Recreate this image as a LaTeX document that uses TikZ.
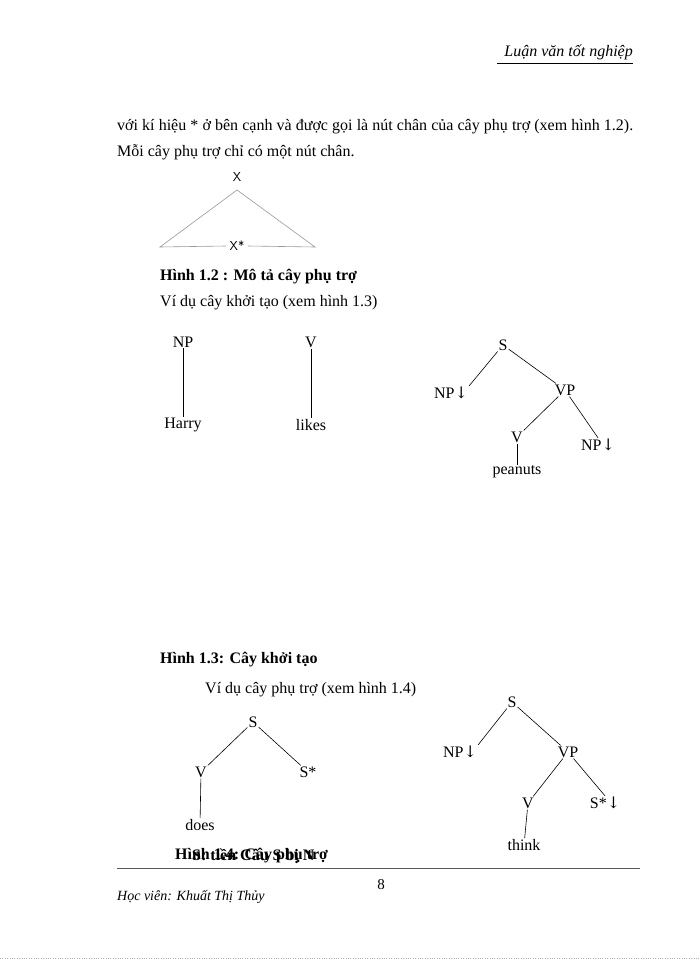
\documentclass[tikz,border=0pt]{standalone}
\usepackage{fontspec}
\setmainfont{Liberation Serif}
\newfontfamily\arrfont{DejaVu Serif}
\begin{document}
\begin{tikzpicture}[x=1pt,y=-1pt,
  lbl/.style={font=\fontsize{16}{18}\selectfont, inner sep=1pt},
  captxt/.style={font=\bfseries\fontsize{16}{18}\selectfont, anchor=west, inner sep=0pt},
  txt/.style={font=\fontsize{16}{18}\selectfont, anchor=west, inner sep=0pt},
  edge/.style={draw=black, line width=0.6pt},
  tri/.style={draw=gray!80, line width=0.6pt}]
\useasboundingbox (0,0) rectangle (700,960);
\fill[white] (0,0) rectangle (700,960);
% header
\node[font=\itshape\fontsize{16}{18}\selectfont, anchor=east, inner sep=0pt] (hdr) at (633,52) {Luận văn tốt nghiệp};
\draw[line width=0.5pt] (497,63) -- (633,63);
% paragraph
\node[txt, text width=516pt, align=justify, font=\fontsize{16}{26}\selectfont] (par) at (117,140) {với kí hiệu * ở bên cạnh và được gọi là nút chân của cây phụ trợ (xem hình 1.2). Mỗi cây phụ trợ chỉ có một nút chân.};
% triangle
\node[font=\sffamily\fontsize{13}{15}\selectfont] (x) at (237,177) {X};
\node[font=\sffamily\fontsize{13}{15}\selectfont] (xs) at (237,246) {X*};
\coordinate (apex) at (237,190);
\coordinate (tl) at (160,247);
\coordinate (tr) at (315,247);
\draw[tri] (xs.west) -- (tl) -- (apex) -- (tr) -- (xs.east);
\node[captxt] (c12) at (160,277) {Hình 1.2 : Mô tả cây phụ trợ};
\node[txt] (v13) at (160,303) {Ví dụ cây khởi tạo (xem hình 1.3)};
% trees fig 1.3
\node[lbl] (np1) at (183,342) {NP};
\node[lbl] (harry) at (183,425) {Harry};
\draw[edge] (np1) -- (harry);
\node[lbl] (v1) at (311,342) {V};
\node[lbl] (likes) at (311,425) {likes};
\draw[edge] (v1) -- (likes);
\node[lbl] (s2) at (503,345) {S};
\node[lbl] (np2) at (451,393) {NP{\arrfont↓}};
\node[lbl] (vp2) at (565,390) {VP};
\node[lbl] (v2) at (517,437) {V};
\node[lbl] (np3) at (598,445) {NP{\arrfont↓}};
\node[lbl] (pea) at (517,472) {peanuts};
\draw[edge] (s2) -- (np2.north east);
\draw[edge] (s2) -- (vp2);
\draw[edge] (vp2) -- (v2);
\draw[edge] (vp2) -- (np3.north);
\draw[edge] (v2) -- (pea);
\node[captxt] (c13) at (160,660) {Hình 1.3: Cây khởi tạo};
\node[txt] (v14) at (205,690) {Ví dụ cây phụ trợ (xem hình 1.4)};
% fig 1.4
\node[lbl] (s3) at (253,722) {S};
\node[lbl] (v3) at (201,772) {V};
\node[lbl] (ss3) at (308,772) {S*};
\node[lbl] (does) at (200,825) {does};
\draw[edge] (s3) -- (v3);
\draw[edge] (s3) -- (ss3);
\draw[edge] (v3) -- (does);
\node[lbl] (s4) at (512,702) {S};
\node[lbl] (np4) at (460,752) {NP{\arrfont↓}};
\node[lbl] (vp4) at (568,752) {VP};
\node[lbl] (v4) at (528,803) {V};
\node[lbl] (ss4) at (605,803) {S*{\arrfont↓}};
\node[lbl] (think) at (524,845) {think};
\draw[edge] (s4) -- (np4.north east);
\draw[edge] (s4) -- (vp4);
\draw[edge] (vp4) -- (v4);
\draw[edge] (vp4) -- (ss4.north);
\draw[edge] (v4) -- (think);
\node[captxt] (c14) at (175,856) {Hình 1.4: Cây phụ trợ};
\node[captxt] (c14b) at (192,856) {S: tiền Câu S bị N};
% footer
\draw[line width=0.6pt, gray!70!black] (117,868) -- (640,868);
\node[lbl, font=\fontsize{15}{17}\selectfont] (pg) at (381,885) {8};
\node[font=\itshape\fontsize{14}{16}\selectfont, anchor=west, inner sep=0pt] (hv) at (117,897) {Học viên: Khuất Thị Thủy};
\draw[gray!60, dotted] (0,958) -- (700,958);
\end{tikzpicture}
\end{document}
